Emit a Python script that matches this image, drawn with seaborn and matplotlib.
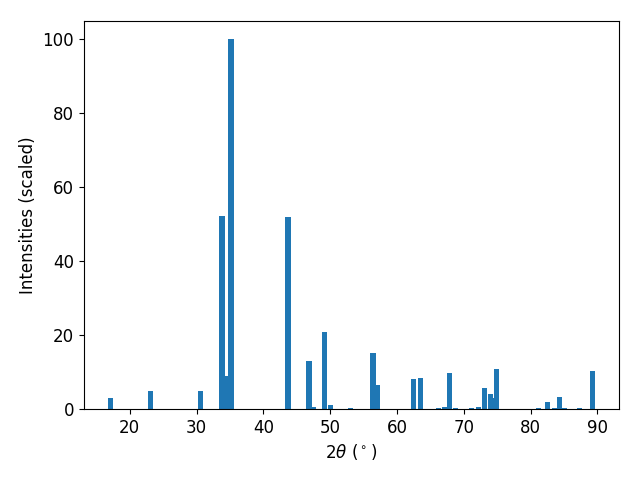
import numpy as np
import matplotlib
matplotlib.use("Agg")
import matplotlib.pyplot as plt
import seaborn as sns
import pandas as pd

# peak positions (2theta, degrees) and scaled intensities
two_theta = [17.15, 23.14, 30.55, 33.81, 34.48, 35.15, 43.69, 46.84, 47.42,
             49.16, 50.04, 53.06, 56.42, 57.09, 62.44, 63.53, 66.25, 67.15,
             67.90, 68.73, 71.12, 72.17, 73.06, 73.96, 74.41, 74.86, 81.22,
             82.57, 83.62, 84.29, 85.05, 87.36, 89.24]
intensity = [3.0, 5.0, 5.0, 52.3, 8.9, 100.0, 52.0, 13.0, 0.5,
             20.9, 1.1, 0.4, 15.2, 6.5, 8.1, 8.4, 0.3, 0.5,
             9.8, 0.3, 0.3, 0.5, 5.7, 4.1, 3.0, 10.8, 0.3,
             1.9, 0.3, 3.25, 0.3, 0.3, 10.3]

xlabel = r"$2\theta$ ($^\circ$)"
ylabel = "Intensities (scaled)"

plt.rcParams["font.size"] = 12

data = pd.DataFrame({"two_theta": two_theta, "intensity": intensity})

# seaborn scales bar width by the smallest spacing on a native axis
bar_width = 0.8
min_gap = np.diff(np.sort(data["two_theta"].unique())).min()

fig, ax = plt.subplots(figsize=(6.4, 4.8), dpi=100)
sns.barplot(data=data, x="two_theta", y="intensity", native_scale=True,
            orient="x", errorbar=None, color="#1f77b4", saturation=1,
            width=bar_width / min_gap, linewidth=0, ax=ax)
ax.set_xlabel(xlabel)
ax.set_ylabel(ylabel)

fig.subplots_adjust(left=0.1308, right=0.9677, top=0.9562, bottom=0.1479)
fig.savefig("out.png")
